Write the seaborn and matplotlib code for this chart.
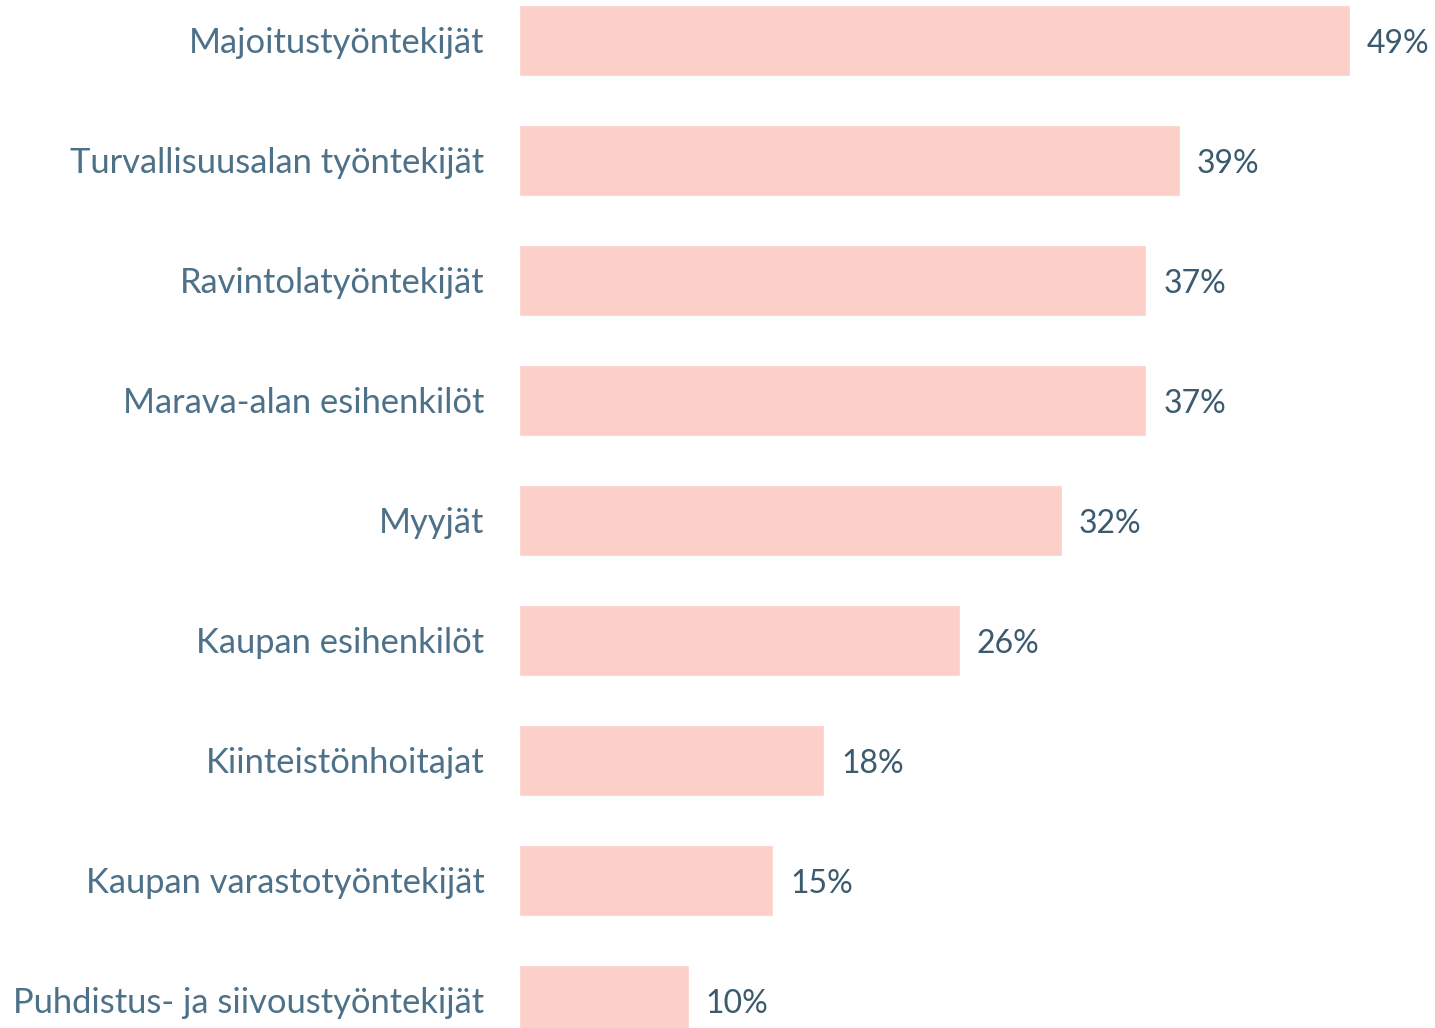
import matplotlib
matplotlib.use("Agg")
import matplotlib.pyplot as plt
import seaborn as sns
import pandas as pd

categories = [
    "Majoitustyöntekijät",
    "Turvallisuusalan työntekijät",
    "Ravintolatyöntekijät",
    "Marava-alan esihenkilöt",
    "Myyjät",
    "Kaupan esihenkilöt",
    "Kiinteistönhoitajat",
    "Kaupan varastotyöntekijät",
    "Puhdistus- ja siivoustyöntekijät",
]
values = [49, 39, 37, 37, 32, 26, 18, 15, 10]
value_labels = [f"{v}%" for v in values]

df = pd.DataFrame({"category": categories, "value": values})

sns.set_theme(style="white")
plt.rcParams["font.family"] = ["Lato", "DejaVu Sans"]

W, H = 1435, 1028
dpi = 100
fig = plt.figure(figsize=(W / dpi, H / dpi), dpi=dpi)
left = 519 / W
ax = fig.add_axes([left, 0, 1 - left, 1])

sns.barplot(data=df, x="value", y="category", color="#FCCFC9", saturation=1,
            width=71 / 120, ax=ax, orient="h")

ax.set_xlim(0, (W - 519) / ((1350 - 519) / 49))
ax.set_ylim((H - 40) / 120, -40 / 120)

for s in ax.spines.values():
    s.set_visible(False)
ax.set_xticks([])
ax.set_xlabel("")
ax.set_ylabel("")
ax.tick_params(axis="y", length=0, pad=25, labelsize=24.8, labelcolor="#4D7189")

texts = ax.bar_label(ax.containers[0], labels=value_labels, padding=12,
                     fontsize=23, color="#3B5A6E")
for t in texts:
    x0, y0 = t.xyann
    t.xyann = (x0, y0 - 3)

fig.savefig("out.png", dpi=dpi, facecolor="white")
